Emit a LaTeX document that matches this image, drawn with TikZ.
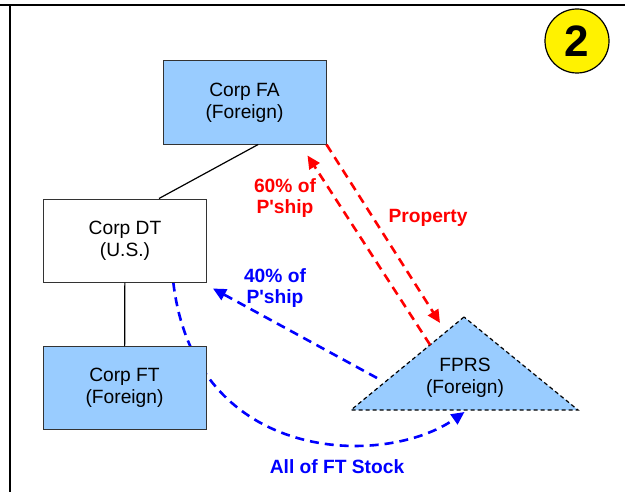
\documentclass[tikz,border=0pt]{standalone}
\usepackage{fontspec}
\setmainfont{Liberation Sans}
\usepackage{xcolor}
\usepackage{tikz}
\usetikzlibrary{arrows.meta, positioning, calc, backgrounds}

\definecolor{boxblue}{RGB}{153,204,255}

\begin{document}
\begin{tikzpicture}[
				x=0.5pt, y=-0.5pt,
				font=\fontsize{9.6}{10.8}\selectfont,
				corpbox/.style={
					draw=black!80,
					line width=0.5pt,
					rectangle,
					align=center,
					minimum width=81.5pt,
					minimum height=41.5pt,
					inner sep=0pt
				},
				lbl/.style={font=\fontsize{9.6}{10.8}\selectfont\bfseries, align=center},
				flow/.style={-{Triangle[length=6.5pt, width=6pt]}, line width=1.3pt,
					dash pattern=on 4.5pt off 3pt},
				link/.style={line width=0.6pt}
				]
				
				% Frame
				\useasboundingbox (0,0) rectangle (625,492);
				\draw[line width=1.4pt] (0,5) -- (625,5);
				\draw[line width=1.4pt] (10,5) -- (10,492);
				
				% Boxes
				\node[corpbox, fill=boxblue] (fa) at (244.5,102.5) {Corp FA\\(Foreign)};
				\node[corpbox, fill=white] (dt) at (125,240.5) {Corp DT\\(U.S.)};
				\node[corpbox, fill=boxblue] (ft) at (124.5,388) {Corp FT\\(Foreign)};
				
				% Partnership
				\coordinate (fprs-top) at (464,317);
				\coordinate (fprs-left) at (351,410);
				\coordinate (fprs-right) at (578,410);
				\fill[boxblue] (fprs-top) -- (fprs-left) -- (fprs-right) -- cycle;
				\draw[line width=0.6pt, dash pattern=on 2pt off 1.5pt] (fprs-top) -- (fprs-left) -- (fprs-right) -- cycle;
				\node[align=center] (fprs) at (465,378) {FPRS\\(Foreign)};
				
				% Number
				\node[draw, circle, fill=yellow, line width=0.6pt, minimum size=32pt, inner sep=0pt,
					font=\fontsize{22}{22}\selectfont\bfseries] (num) at (577,41) {2};
				
				% Lines
				\draw[link] (fa.-72) -- (dt.51);
				\draw[link] (dt) -- (ft);
				
				% Arrows
				\coordinate (prop-end) at (440,323);
				\coordinate (pship-start) at (377,378);
				\draw[flow, red] ($(fprs-left)!0.7!(fprs-top)$) -- ([shift={(-19,11)}]fa.south east);
				\draw[flow, red] (fa.south east) -- (prop-end);
				\draw[flow, blue] (pship-start) -- ([shift={(6,6)}]dt.south east);
				\begin{scope}[on background layer]
					\draw[flow, blue] (dt.-41) .. controls (195,465) and (385,468) .. ($(fprs-left)!0.5!(fprs-right)+(0,2)$);
				\end{scope}
				
				% Labels
				\node[lbl, red] (l60) at (285,198) {60\% of\\P\textquotesingle ship};
				\node[lbl, red] (lprop) at (428,218) {Property};
				\node[lbl, blue] (l40) at (275,288) {40\% of\\P\textquotesingle ship};
				\node[lbl, blue] (lall) at (337,467) {All of FT Stock};
				
			\end{tikzpicture}
\end{document}
